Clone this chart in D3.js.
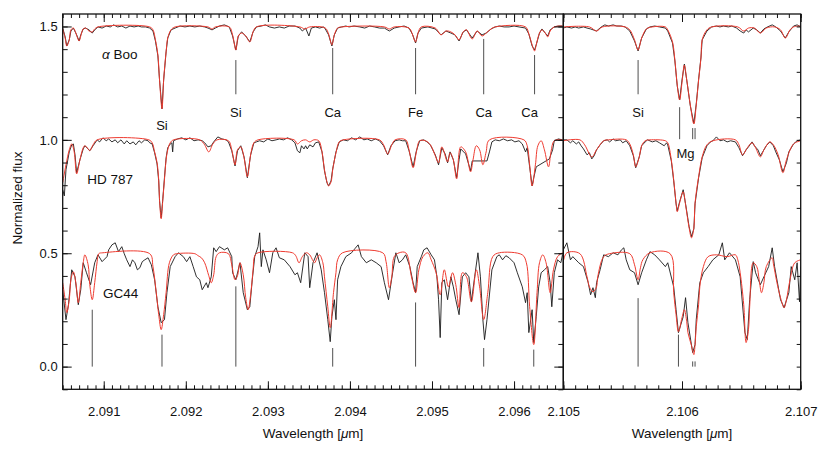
<!DOCTYPE html>
<html>
<head>
<meta charset="utf-8">
<script src="https://cdn.jsdelivr.net/npm/d3@7"></script>
<style>
body { margin: 0; background: #fff; }
svg text { font-family: "Liberation Sans", Arial, Helvetica, sans-serif; fill: #111; }
</style>
</head>
<body>
<div id="chart"></div>
<script>
var w = 830;
var h = 452;

// stars, top to bottom, and the vertical offset each one is plotted with
var starNames = ["α Boo", "HD 787", "GC44"];
var starOffsets = [0.5, 0, -0.5];

// ---- left window: [wavelength (um), normalized flux] ----
var booModelL = [[2.09050,0.989],[2.09053,0.949],[2.09055,0.914],[2.09058,0.941],[2.09060,0.985],[2.09063,0.993],[2.09066,0.971],[2.09070,0.936],[2.09072,0.958],[2.09075,0.989],[2.09078,0.993],[2.09082,0.980],[2.09086,0.976],[2.09089,0.989],[2.09093,0.998],[2.09156,0.998],[2.09160,0.985],[2.09163,0.941],[2.09166,0.874],[2.09168,0.764],[2.09171,0.637],[2.09173,0.764],[2.09176,0.888],[2.09178,0.949],[2.09182,0.985],[2.09187,0.998],[2.09227,0.998],[2.09232,0.989],[2.09236,0.998],[2.09253,0.998],[2.09257,0.963],[2.09261,0.896],[2.09264,0.958],[2.09268,0.971],[2.09273,0.958],[2.09278,0.932],[2.09282,0.976],[2.09286,0.998],[2.09339,0.998],[2.09345,0.989],[2.09351,0.998],[2.09370,0.993],[2.09374,0.967],[2.09378,0.919],[2.09381,0.963],[2.09385,0.993],[2.09390,0.998],[2.09442,0.998],[2.09448,0.989],[2.09454,0.998],[2.09472,0.993],[2.09476,0.967],[2.09480,0.932],[2.09483,0.971],[2.09487,0.998],[2.09504,0.993],[2.09511,0.963],[2.09517,0.980],[2.09523,0.976],[2.09528,0.963],[2.09533,0.941],[2.09538,0.976],[2.09542,0.985],[2.09549,0.945],[2.09555,0.980],[2.09561,0.958],[2.09566,0.971],[2.09572,0.989],[2.09577,0.998],[2.09614,0.998],[2.09618,0.967],[2.09622,0.919],[2.09625,0.892],[2.09627,0.919],[2.09631,0.971],[2.09634,0.985],[2.09638,0.971],[2.09641,0.954],[2.09644,0.980],[2.09649,0.998],[2.09659,1.002]];

var booObsL = [[2.09050,0.993],[2.09053,0.954],[2.09055,0.914],[2.09058,0.941],[2.09060,0.980],[2.09063,0.993],[2.09066,0.971],[2.09070,0.936],[2.09072,0.963],[2.09075,0.989],[2.09078,0.993],[2.09082,0.985],[2.09086,0.971],[2.09089,0.985],[2.09093,0.998],[2.09098,0.993],[2.09103,1.002],[2.09108,0.998],[2.09112,1.007],[2.09117,0.998],[2.09122,1.002],[2.09127,0.993],[2.09132,1.002],[2.09137,0.998],[2.09142,1.002],[2.09146,0.998],[2.09151,0.998],[2.09156,0.993],[2.09160,0.980],[2.09163,0.936],[2.09166,0.870],[2.09168,0.764],[2.09171,0.637],[2.09173,0.764],[2.09176,0.888],[2.09178,0.949],[2.09182,0.985],[2.09187,0.993],[2.09193,1.002],[2.09199,0.998],[2.09205,1.002],[2.09211,0.998],[2.09217,1.002],[2.09223,0.998],[2.09227,0.993],[2.09232,0.985],[2.09236,0.993],[2.09241,1.002],[2.09247,1.007],[2.09253,0.998],[2.09257,0.958],[2.09261,0.896],[2.09264,0.958],[2.09268,0.976],[2.09273,0.958],[2.09278,0.932],[2.09282,0.976],[2.09286,0.998],[2.09292,1.002],[2.09297,1.007],[2.09302,0.998],[2.09308,0.993],[2.09314,0.998],[2.09320,0.993],[2.09326,1.002],[2.09333,1.002],[2.09339,0.993],[2.09342,0.980],[2.09346,0.993],[2.09350,0.958],[2.09353,0.993],[2.09358,0.998],[2.09363,0.993],[2.09368,0.998],[2.09370,0.989],[2.09374,0.963],[2.09378,0.914],[2.09381,0.963],[2.09385,0.993],[2.09390,0.998],[2.09395,1.002],[2.09399,0.998],[2.09405,1.002],[2.09412,0.998],[2.09418,0.993],[2.09424,1.002],[2.09430,0.998],[2.09436,0.993],[2.09442,0.993],[2.09448,0.980],[2.09454,0.993],[2.09460,0.998],[2.09466,1.002],[2.09472,0.993],[2.09476,0.967],[2.09480,0.927],[2.09483,0.971],[2.09487,0.993],[2.09495,0.998],[2.09500,0.993],[2.09504,0.989],[2.09511,0.963],[2.09517,0.980],[2.09523,0.971],[2.09528,0.963],[2.09533,0.936],[2.09538,0.976],[2.09542,0.985],[2.09549,0.949],[2.09555,0.980],[2.09561,0.963],[2.09566,0.971],[2.09572,0.989],[2.09577,0.998],[2.09582,1.002],[2.09588,0.998],[2.09594,0.998],[2.09600,1.002],[2.09606,0.998],[2.09614,0.993],[2.09618,0.967],[2.09622,0.914],[2.09625,0.896],[2.09627,0.919],[2.09631,0.971],[2.09634,0.989],[2.09638,0.971],[2.09641,0.958],[2.09644,0.985],[2.09649,0.998],[2.09654,1.002],[2.09659,1.002]];

var hdModelL = [[2.09050,0.811],[2.09054,0.890],[2.09058,0.956],[2.09061,0.982],[2.09064,0.947],[2.09067,0.850],[2.09071,0.912],[2.09075,0.965],[2.09077,0.974],[2.09081,0.960],[2.09083,0.952],[2.09087,0.978],[2.09092,1.000],[2.09155,1.000],[2.09159,0.987],[2.09162,0.947],[2.09165,0.899],[2.09167,0.824],[2.09168,0.736],[2.09170,0.652],[2.09172,0.736],[2.09174,0.824],[2.09176,0.912],[2.09178,0.956],[2.09181,0.987],[2.09185,1.000],[2.09217,1.000],[2.09223,0.978],[2.09228,0.947],[2.09233,0.982],[2.09238,1.000],[2.09252,0.996],[2.09256,0.956],[2.09260,0.890],[2.09263,0.956],[2.09267,0.969],[2.09271,0.921],[2.09275,0.837],[2.09279,0.934],[2.09283,0.987],[2.09288,1.000],[2.09332,1.000],[2.09336,0.982],[2.09341,0.996],[2.09346,1.000],[2.09351,0.991],[2.09356,1.000],[2.09362,0.996],[2.09366,0.947],[2.09369,0.868],[2.09372,0.815],[2.09374,0.797],[2.09377,0.815],[2.09379,0.868],[2.09383,0.943],[2.09387,0.991],[2.09392,1.000],[2.09436,1.000],[2.09441,0.978],[2.09446,0.938],[2.09451,0.978],[2.09455,1.000],[2.09468,1.000],[2.09472,0.956],[2.09477,0.877],[2.09481,0.947],[2.09485,0.996],[2.09492,0.996],[2.09498,0.978],[2.09504,0.930],[2.09508,0.899],[2.09512,0.969],[2.09519,0.903],[2.09522,0.943],[2.09526,0.912],[2.09530,0.828],[2.09535,0.969],[2.09541,0.947],[2.09547,0.859],[2.09550,0.912],[2.09554,0.974],[2.09558,0.956],[2.09562,0.890],[2.09566,0.947],[2.09570,1.000],[2.09612,1.000],[2.09616,0.974],[2.09619,0.890],[2.09622,0.797],[2.09626,0.890],[2.09629,0.974],[2.09633,0.996],[2.09637,0.956],[2.09642,0.881],[2.09645,0.947],[2.09649,0.996],[2.09659,1.000]];

var hdObsL = [[2.09050,0.780],[2.09052,0.753],[2.09054,0.868],[2.09058,0.947],[2.09061,0.978],[2.09063,0.982],[2.09065,0.934],[2.09067,0.855],[2.09071,0.912],[2.09075,0.960],[2.09077,0.974],[2.09081,0.960],[2.09083,0.952],[2.09087,0.974],[2.09092,1.000],[2.09095,0.991],[2.09099,1.009],[2.09103,0.996],[2.09106,1.004],[2.09110,0.991],[2.09114,1.000],[2.09117,0.987],[2.09121,1.000],[2.09125,0.982],[2.09128,0.996],[2.09132,0.982],[2.09136,0.991],[2.09139,0.978],[2.09143,0.996],[2.09146,0.987],[2.09150,1.000],[2.09154,0.996],[2.09156,0.987],[2.09159,0.982],[2.09162,0.943],[2.09165,0.894],[2.09167,0.819],[2.09168,0.731],[2.09170,0.656],[2.09172,0.740],[2.09174,0.833],[2.09176,0.921],[2.09178,0.965],[2.09181,0.982],[2.09183,0.987],[2.09184,0.947],[2.09185,0.996],[2.09190,1.004],[2.09195,1.009],[2.09200,1.000],[2.09205,1.009],[2.09210,0.996],[2.09215,1.000],[2.09220,0.996],[2.09223,0.987],[2.09227,0.969],[2.09231,0.974],[2.09234,0.991],[2.09239,1.013],[2.09244,1.004],[2.09249,1.000],[2.09252,0.991],[2.09256,0.952],[2.09260,0.885],[2.09263,0.952],[2.09267,0.974],[2.09271,0.925],[2.09275,0.833],[2.09279,0.934],[2.09283,0.987],[2.09286,0.991],[2.09290,0.996],[2.09295,0.991],[2.09300,1.004],[2.09305,0.996],[2.09310,1.000],[2.09314,1.004],[2.09319,1.000],[2.09324,1.009],[2.09329,1.000],[2.09333,0.987],[2.09336,0.952],[2.09339,0.943],[2.09341,0.974],[2.09344,0.960],[2.09346,0.974],[2.09348,0.960],[2.09351,0.978],[2.09355,0.969],[2.09358,0.987],[2.09362,0.991],[2.09366,0.947],[2.09369,0.863],[2.09372,0.811],[2.09374,0.797],[2.09377,0.819],[2.09379,0.872],[2.09383,0.947],[2.09387,0.991],[2.09392,1.000],[2.09397,0.996],[2.09402,1.009],[2.09407,1.000],[2.09412,1.013],[2.09417,1.000],[2.09421,1.004],[2.09426,0.996],[2.09431,1.004],[2.09436,0.996],[2.09441,0.974],[2.09446,0.934],[2.09450,0.974],[2.09455,0.996],[2.09460,1.000],[2.09464,0.996],[2.09468,0.996],[2.09472,0.952],[2.09477,0.881],[2.09481,0.952],[2.09485,0.996],[2.09490,1.000],[2.09494,0.991],[2.09498,0.978],[2.09504,0.934],[2.09508,0.890],[2.09512,0.965],[2.09516,0.938],[2.09519,0.899],[2.09522,0.947],[2.09526,0.912],[2.09530,0.833],[2.09533,0.912],[2.09535,0.960],[2.09541,0.938],[2.09547,0.863],[2.09549,0.907],[2.09567,0.907],[2.09570,0.947],[2.09573,0.991],[2.09577,1.000],[2.09582,0.996],[2.09587,1.004],[2.09592,0.996],[2.09597,1.000],[2.09601,0.991],[2.09606,0.996],[2.09610,0.982],[2.09614,0.947],[2.09616,0.965],[2.09619,0.881],[2.09622,0.797],[2.09624,0.833],[2.09627,0.881],[2.09643,0.916],[2.09647,0.956],[2.09649,0.996],[2.09654,1.004],[2.09659,1.000]];

var gcModelL = [[2.09050,0.870],[2.09053,0.795],[2.09055,0.738],[2.09058,0.795],[2.09060,0.883],[2.09063,0.918],[2.09066,0.870],[2.09069,0.782],[2.09072,0.870],[2.09075,0.958],[2.09077,0.993],[2.09081,0.949],[2.09083,0.861],[2.09086,0.795],[2.09089,0.870],[2.09092,0.963],[2.09094,0.998],[2.09099,1.002],[2.09156,0.998],[2.09160,0.941],[2.09164,0.826],[2.09167,0.729],[2.09170,0.663],[2.09173,0.729],[2.09176,0.826],[2.09180,0.958],[2.09185,0.993],[2.09189,0.998],[2.09211,0.998],[2.09215,0.989],[2.09219,0.980],[2.09223,0.958],[2.09228,0.901],[2.09231,0.870],[2.09234,0.905],[2.09237,0.985],[2.09241,1.002],[2.09252,0.998],[2.09256,0.949],[2.09260,0.883],[2.09263,0.901],[2.09266,0.958],[2.09270,0.905],[2.09273,0.804],[2.09276,0.751],[2.09279,0.817],[2.09282,0.927],[2.09284,0.989],[2.09288,1.002],[2.09330,1.002],[2.09334,0.989],[2.09338,0.958],[2.09342,0.985],[2.09347,1.002],[2.09351,0.993],[2.09355,0.967],[2.09357,0.958],[2.09360,0.980],[2.09363,0.993],[2.09367,0.958],[2.09369,0.896],[2.09373,0.764],[2.09376,0.672],[2.09380,0.826],[2.09383,0.914],[2.09385,0.971],[2.09391,1.002],[2.09440,1.002],[2.09444,0.963],[2.09448,0.848],[2.09451,0.896],[2.09454,0.985],[2.09460,1.002],[2.09468,1.002],[2.09475,0.896],[2.09480,0.826],[2.09484,0.927],[2.09489,0.985],[2.09495,1.002],[2.09499,0.971],[2.09505,0.914],[2.09510,0.817],[2.09515,0.927],[2.09520,0.852],[2.09525,0.914],[2.09529,0.861],[2.09533,0.760],[2.09537,0.914],[2.09542,0.896],[2.09548,0.786],[2.09554,0.927],[2.09558,0.852],[2.09563,0.707],[2.09568,0.826],[2.09574,0.985],[2.09582,1.002],[2.09610,0.993],[2.09615,0.958],[2.09619,0.764],[2.09624,0.597],[2.09628,0.826],[2.09631,0.958],[2.09635,0.993],[2.09639,0.958],[2.09644,0.826],[2.09648,0.927],[2.09653,0.985],[2.09659,1.002]];

var gcObsL = [[2.09050,0.839],[2.09054,0.707],[2.09057,0.773],[2.09061,0.927],[2.09065,0.896],[2.09069,0.773],[2.09072,0.839],[2.09075,0.958],[2.09079,0.914],[2.09084,0.861],[2.09089,0.958],[2.09093,0.993],[2.09098,0.963],[2.09104,0.985],[2.09106,1.015],[2.09110,1.037],[2.09114,1.046],[2.09118,1.007],[2.09122,1.029],[2.09125,0.998],[2.09128,0.971],[2.09132,0.941],[2.09135,0.971],[2.09138,0.958],[2.09141,0.927],[2.09144,0.936],[2.09147,0.963],[2.09150,0.971],[2.09154,0.980],[2.09158,0.949],[2.09162,0.883],[2.09166,0.764],[2.09170,0.694],[2.09174,0.707],[2.09177,0.826],[2.09181,0.941],[2.09187,0.985],[2.09191,1.002],[2.09197,0.985],[2.09201,0.963],[2.09205,0.985],[2.09209,0.941],[2.09213,0.896],[2.09217,0.883],[2.09220,0.839],[2.09225,0.870],[2.09227,0.848],[2.09231,0.896],[2.09234,1.024],[2.09237,1.007],[2.09241,1.029],[2.09247,1.015],[2.09251,1.024],[2.09256,0.985],[2.09257,0.914],[2.09261,0.883],[2.09266,0.958],[2.09270,0.826],[2.09275,0.751],[2.09278,0.764],[2.09281,0.883],[2.09284,0.985],[2.09288,1.029],[2.09290,1.090],[2.09292,0.941],[2.09294,1.015],[2.09298,0.971],[2.09302,0.914],[2.09306,1.002],[2.09310,1.024],[2.09314,0.980],[2.09320,0.971],[2.09327,0.941],[2.09333,0.905],[2.09336,0.914],[2.09340,0.870],[2.09345,1.002],[2.09349,0.985],[2.09351,0.848],[2.09355,0.958],[2.09360,1.002],[2.09365,0.927],[2.09369,0.826],[2.09373,0.707],[2.09376,0.610],[2.09378,0.720],[2.09381,0.795],[2.09383,0.707],[2.09385,0.883],[2.09389,0.941],[2.09395,0.985],[2.09402,1.002],[2.09406,1.020],[2.09410,1.037],[2.09414,0.985],[2.09420,0.958],[2.09426,0.971],[2.09432,0.958],[2.09438,0.941],[2.09442,0.870],[2.09447,0.795],[2.09452,0.914],[2.09456,1.002],[2.09460,0.958],[2.09464,0.971],[2.09468,0.993],[2.09473,0.941],[2.09477,0.870],[2.09480,0.826],[2.09482,0.941],[2.09487,0.985],[2.09490,1.015],[2.09494,1.024],[2.09499,0.993],[2.09503,0.971],[2.09506,0.896],[2.09508,0.795],[2.09510,0.628],[2.09512,0.870],[2.09515,0.883],[2.09519,0.795],[2.09523,0.896],[2.09526,0.852],[2.09529,0.795],[2.09533,0.729],[2.09537,0.896],[2.09541,0.914],[2.09545,0.896],[2.09548,0.786],[2.09552,0.896],[2.09556,1.002],[2.09559,0.896],[2.09562,0.707],[2.09564,0.619],[2.09567,0.707],[2.09573,0.927],[2.09579,0.985],[2.09582,0.993],[2.09586,0.971],[2.09590,0.989],[2.09594,0.980],[2.09600,0.958],[2.09604,0.914],[2.09610,0.852],[2.09614,0.782],[2.09616,0.826],[2.09618,0.650],[2.09622,0.751],[2.09624,0.606],[2.09627,0.720],[2.09630,0.852],[2.09633,0.914],[2.09637,0.927],[2.09641,0.941],[2.09644,0.870],[2.09646,0.764],[2.09649,0.914],[2.09653,0.971],[2.09657,0.958],[2.09659,0.993]];

// ---- right window ----
var booModelR = [[2.10500,0.998],[2.10522,0.998],[2.10528,0.980],[2.10533,0.998],[2.10552,0.998],[2.10556,0.985],[2.10560,0.941],[2.10563,0.896],[2.10566,0.949],[2.10570,0.989],[2.10575,0.998],[2.10586,0.998],[2.10588,0.985],[2.10592,0.932],[2.10594,0.852],[2.10596,0.742],[2.10598,0.676],[2.10600,0.753],[2.10602,0.830],[2.10604,0.764],[2.10607,0.654],[2.10610,0.570],[2.10612,0.654],[2.10614,0.764],[2.10616,0.861],[2.10617,0.941],[2.10621,0.985],[2.10625,0.998],[2.10647,0.998],[2.10652,0.980],[2.10656,0.993],[2.10661,0.993],[2.10666,0.971],[2.10671,0.993],[2.10678,0.998],[2.10683,0.985],[2.10687,0.949],[2.10691,0.985],[2.10694,0.998],[2.10700,1.002]];

var booObsR = [[2.10500,0.993],[2.10503,0.998],[2.10507,0.993],[2.10510,0.998],[2.10513,0.993],[2.10517,0.998],[2.10520,0.993],[2.10523,0.989],[2.10528,0.980],[2.10532,0.998],[2.10535,1.007],[2.10538,1.002],[2.10542,1.007],[2.10545,1.002],[2.10549,1.002],[2.10552,0.998],[2.10556,0.980],[2.10560,0.936],[2.10563,0.892],[2.10566,0.949],[2.10570,0.989],[2.10573,0.998],[2.10577,1.002],[2.10581,0.998],[2.10586,0.993],[2.10588,0.980],[2.10592,0.927],[2.10594,0.848],[2.10596,0.737],[2.10598,0.676],[2.10600,0.764],[2.10602,0.834],[2.10604,0.764],[2.10607,0.650],[2.10610,0.573],[2.10612,0.658],[2.10614,0.767],[2.10616,0.865],[2.10617,0.941],[2.10621,0.980],[2.10625,0.998],[2.10629,1.002],[2.10632,0.998],[2.10635,1.002],[2.10639,0.998],[2.10642,1.002],[2.10646,0.993],[2.10649,0.980],[2.10652,0.971],[2.10654,0.985],[2.10656,0.976],[2.10660,0.993],[2.10663,0.985],[2.10666,0.971],[2.10669,0.989],[2.10672,0.998],[2.10676,1.007],[2.10679,0.998],[2.10683,0.980],[2.10687,0.949],[2.10690,0.976],[2.10694,1.002],[2.10697,1.007],[2.10700,0.998]];

var hdModelR = [[2.10500,0.996],[2.10514,1.000],[2.10518,0.978],[2.10524,0.925],[2.10528,0.956],[2.10534,0.996],[2.10538,1.000],[2.10553,1.000],[2.10556,0.982],[2.10559,0.934],[2.10561,0.881],[2.10564,0.925],[2.10566,0.974],[2.10569,0.996],[2.10573,1.000],[2.10586,0.996],[2.10588,0.987],[2.10591,0.912],[2.10593,0.824],[2.10595,0.722],[2.10596,0.683],[2.10598,0.722],[2.10601,0.771],[2.10603,0.714],[2.10606,0.612],[2.10608,0.568],[2.10610,0.612],[2.10611,0.722],[2.10614,0.837],[2.10617,0.925],[2.10621,0.978],[2.10626,0.996],[2.10645,1.000],[2.10648,0.978],[2.10651,0.934],[2.10655,0.965],[2.10659,0.987],[2.10662,0.965],[2.10666,0.925],[2.10669,0.956],[2.10674,0.991],[2.10677,0.978],[2.10681,0.934],[2.10685,0.855],[2.10688,0.912],[2.10694,0.982],[2.10700,0.996]];

var hdObsR = [[2.10500,1.000],[2.10503,1.000],[2.10506,0.987],[2.10508,0.996],[2.10511,0.982],[2.10513,0.991],[2.10515,0.974],[2.10517,0.960],[2.10520,0.934],[2.10522,0.943],[2.10524,0.916],[2.10526,0.930],[2.10528,0.956],[2.10531,0.978],[2.10534,0.996],[2.10537,1.000],[2.10539,0.991],[2.10542,1.004],[2.10544,0.996],[2.10548,1.000],[2.10550,0.987],[2.10553,0.996],[2.10556,0.974],[2.10559,0.930],[2.10561,0.877],[2.10564,0.925],[2.10566,0.974],[2.10569,0.991],[2.10571,1.000],[2.10575,0.991],[2.10578,0.996],[2.10581,0.987],[2.10585,0.974],[2.10587,0.987],[2.10588,0.978],[2.10591,0.907],[2.10593,0.819],[2.10595,0.718],[2.10596,0.687],[2.10598,0.727],[2.10601,0.780],[2.10603,0.718],[2.10606,0.617],[2.10608,0.573],[2.10610,0.608],[2.10611,0.718],[2.10614,0.833],[2.10617,0.921],[2.10621,0.974],[2.10624,0.991],[2.10626,0.996],[2.10629,1.013],[2.10632,0.996],[2.10635,1.000],[2.10638,0.991],[2.10641,0.996],[2.10645,0.991],[2.10648,0.965],[2.10651,0.930],[2.10654,0.956],[2.10656,0.969],[2.10659,0.991],[2.10661,0.974],[2.10664,0.956],[2.10666,0.930],[2.10668,0.947],[2.10671,0.974],[2.10674,0.991],[2.10677,0.974],[2.10679,0.947],[2.10682,0.912],[2.10685,0.859],[2.10688,0.899],[2.10690,0.947],[2.10694,0.982],[2.10697,0.996],[2.10700,1.000]];

var gcModelR = [[2.10500,0.963],[2.10503,1.002],[2.10514,0.998],[2.10520,0.896],[2.10522,0.852],[2.10525,0.830],[2.10528,0.852],[2.10529,0.896],[2.10534,0.985],[2.10539,0.998],[2.10556,0.998],[2.10560,0.949],[2.10563,0.883],[2.10565,0.936],[2.10567,0.971],[2.10573,1.002],[2.10590,0.998],[2.10593,0.826],[2.10595,0.729],[2.10597,0.654],[2.10600,0.716],[2.10602,0.751],[2.10604,0.698],[2.10605,0.650],[2.10608,0.593],[2.10610,0.553],[2.10611,0.597],[2.10612,0.676],[2.10614,0.773],[2.10615,0.852],[2.10618,0.941],[2.10622,0.985],[2.10629,0.993],[2.10638,0.985],[2.10645,0.993],[2.10647,0.971],[2.10649,0.914],[2.10652,0.773],[2.10654,0.606],[2.10656,0.663],[2.10657,0.764],[2.10660,0.958],[2.10663,0.941],[2.10665,0.883],[2.10667,0.826],[2.10669,0.870],[2.10671,0.941],[2.10676,0.980],[2.10677,0.954],[2.10680,0.870],[2.10683,0.804],[2.10686,0.760],[2.10688,0.795],[2.10691,0.883],[2.10695,0.958],[2.10700,0.971]];

var gcObsR = [[2.10500,1.015],[2.10503,1.046],[2.10506,0.971],[2.10508,0.985],[2.10513,0.958],[2.10517,0.941],[2.10521,0.870],[2.10523,0.817],[2.10525,0.848],[2.10527,0.804],[2.10528,0.870],[2.10531,0.927],[2.10534,0.993],[2.10538,0.985],[2.10542,1.002],[2.10546,0.993],[2.10549,1.015],[2.10551,1.024],[2.10553,0.971],[2.10556,0.927],[2.10560,0.914],[2.10563,0.861],[2.10566,0.914],[2.10570,0.971],[2.10573,1.007],[2.10577,0.993],[2.10581,0.971],[2.10586,0.941],[2.10588,0.958],[2.10593,0.852],[2.10595,0.751],[2.10597,0.650],[2.10601,0.720],[2.10603,0.804],[2.10605,0.694],[2.10609,0.562],[2.10611,0.597],[2.10612,0.707],[2.10615,0.870],[2.10618,0.914],[2.10622,0.941],[2.10626,0.971],[2.10631,0.993],[2.10634,1.046],[2.10636,0.971],[2.10640,1.002],[2.10645,0.971],[2.10649,0.896],[2.10653,0.650],[2.10655,0.619],[2.10657,0.795],[2.10660,0.963],[2.10662,0.914],[2.10666,0.861],[2.10669,0.896],[2.10673,0.941],[2.10676,1.024],[2.10678,0.941],[2.10683,0.795],[2.10686,0.760],[2.10690,0.826],[2.10692,0.941],[2.10695,0.883],[2.10697,0.958],[2.10699,0.786],[2.10700,0.941]];

// line identifications
var idNamesL = ["Si", "Si", "Ca", "Fe", "Ca", "Ca"];
var idWavesL = [2.09171, 2.09261, 2.09379, 2.09480, 2.09563, 2.09625];
var gcMarkWavesL = [2.09086, 2.09171, 2.09261, 2.09379, 2.09480, 2.09563, 2.09624];
var idNamesR = ["Si", "Mg"];
var idWavesR = [2.10563, 2.10598];
var mgDoubletR = [2.10609, 2.10611];
var gcMarkWavesR = [2.10563, 2.10597, 2.10609, 2.10611];

var svg = d3.select("#chart")
    .append("svg")
    .attr("width", w)
    .attr("height", h)
    .style("background-color", "#fff");

var plotTop = 14, plotBottom = 389.3;
var xL = d3.scaleLinear().domain([2.0905, 2.0966]).range([62.7, 563.3]);
var xR = d3.scaleLinear().domain([2.105, 2.107]).range([563.3, 800.7]);
var y = d3.scaleLinear().domain([-0.1, 1.555]).range([plotBottom, plotTop]);

var panels = [
    { x: xL, id: "clipL", obs: [booObsL, hdObsL, gcObsL], model: [booModelL, hdModelL, gcModelL] },
    { x: xR, id: "clipR", obs: [booObsR, hdObsR, gcObsR], model: [booModelR, hdModelR, gcModelR] }
];

var defs = svg.append("defs");

panels.forEach(function(p) {
    var x0 = p.x.range()[0], x1 = p.x.range()[1];
    defs.append("clipPath").attr("id", p.id)
        .append("rect")
        .attr("x", x0).attr("y", plotTop)
        .attr("width", x1 - x0).attr("height", plotBottom - plotTop);

    var g = svg.append("g").attr("clip-path", "url(#" + p.id + ")");

    starOffsets.forEach(function(off, i) {
        var obsLine = d3.line()
            .x(function(d) { return p.x(d[0]); })
            .y(function(d) { return y(d[1] + off); });
        var modLine = d3.line()
            .x(function(d) { return p.x(d[0]); })
            .y(function(d) { return y(d[1] + off); })
            .curve(d3.curveCatmullRom.alpha(0.5));

        g.append("path")
            .datum(p.obs[i])
            .attr("d", obsLine)
            .attr("fill", "none")
            .attr("stroke", "#1a1a1a")
            .attr("stroke-width", 0.9)
            .attr("stroke-linejoin", "round");

        g.append("path")
            .datum(p.model[i])
            .attr("d", modLine)
            .attr("fill", "none")
            .attr("stroke", "#ee3b30")
            .attr("stroke-width", 1);
    });
});

// ---- line id markers ----
var marks = svg.append("g")
    .attr("stroke", "#222")
    .attr("stroke-width", 0.8);

function mark(xs, wave, v0, v1) {
    marks.append("line")
        .attr("x1", xs(wave)).attr("x2", xs(wave))
        .attr("y1", y(v0)).attr("y2", y(v1));
}

function idLabel(xs, wave, txt, v, dx) {
    svg.append("text")
        .attr("x", xs(wave) + (dx || 0))
        .attr("y", y(v))
        .attr("dy", "0.35em")
        .attr("text-anchor", "middle")
        .style("font-size", "13px")
        .text(txt);
}

// upper row (alpha Boo)
var upperTops = [null, 1.352, 1.405, 1.405, 1.445, 1.374];
idWavesL.forEach(function(wv, i) {
    if (upperTops[i] !== null) mark(xL, wv, 1.201, upperTops[i]);
    idLabel(xL, wv, idNamesL[i], i === 0 ? 1.062 : 1.123, i === 5 ? -5 : 0);
});
mark(xR, idWavesR[0], 1.201, 1.352);
idLabel(xR, idWavesR[0], idNamesR[0], 1.123, 0);
mark(xR, idWavesR[1], 1.003, 1.144);
mgDoubletR.forEach(function(wv) { mark(xR, wv, 1.003, 1.052); });
idLabel(xR, 2.10603, idNamesR[1], 0.938, 0);

// lower row (GC44)
var gcTopsL = [0.251, 0.141, 0.354, 0.082, 0.283, 0.082, 0.075];
gcMarkWavesL.forEach(function(wv, i) { mark(xL, wv, 0, gcTopsL[i]); });
var gcTopsR = [0.302, 0.141, 0.023, 0.023];
gcMarkWavesR.forEach(function(wv, i) { mark(xR, wv, 0, gcTopsR[i]); });

// ---- star names ----
var booText = svg.append("text")
    .attr("x", xL(2.09098)).attr("y", y(1.355))
    .style("font-size", "13.5px");
booText.append("tspan").style("font-style", "italic").text(starNames[0].split(" ")[0]);
booText.append("tspan").text(" " + starNames[0].split(" ")[1]);

svg.append("text")
    .attr("x", xL(2.09080)).attr("y", y(0.804))
    .style("font-size", "13.5px")
    .text(starNames[1]);

svg.append("text")
    .attr("x", xL(2.09099)).attr("y", y(0.302))
    .style("font-size", "13.5px")
    .text(starNames[2]);

// ---- axes ----
function styleAxis(g) {
    g.select(".domain").remove();
    g.selectAll("line").attr("stroke", "#111").attr("stroke-width", 1);
    g.selectAll("text").style("font-size", "13px").attr("fill", "#111");
}

function minors(a, b) {
    return d3.range(Math.round(a * 10000), Math.round(b * 10000) + 1).map(function(i) { return i / 10000; });
}

var xMajL = [2.091, 2.092, 2.093, 2.094, 2.095, 2.096];
var xMajR = [2.105, 2.106, 2.107];

[[xL, xMajL, minors(2.0905, 2.0966)], [xR, xMajR, minors(2.105, 2.107)]].forEach(function(a) {
    var xs = a[0];
    svg.append("g").attr("transform", "translate(0," + plotBottom + ")")
        .call(d3.axisBottom(xs).tickValues(a[2]).tickSize(-4).tickFormat(""))
        .call(styleAxis);
    svg.append("g").attr("transform", "translate(0," + plotBottom + ")")
        .call(d3.axisBottom(xs).tickValues(a[1]).tickSize(-8).tickPadding(17).tickFormat(d3.format(".3f")))
        .call(styleAxis);
    svg.append("g").attr("transform", "translate(0," + plotTop + ")")
        .call(d3.axisTop(xs).tickValues(a[2]).tickSize(-4).tickFormat(""))
        .call(styleAxis);
    svg.append("g").attr("transform", "translate(0," + plotTop + ")")
        .call(d3.axisTop(xs).tickValues(a[1]).tickSize(-8).tickFormat(""))
        .call(styleAxis);
});

var yMinor = d3.range(-1, 16).map(function(i) { return i / 10; });
var yMajor = [0, 0.5, 1.0, 1.5];

svg.append("g").attr("transform", "translate(62.7,0)")
    .call(d3.axisLeft(y).tickValues(yMinor).tickSize(-5).tickFormat(""))
    .call(styleAxis);
svg.append("g").attr("transform", "translate(62.7,0)")
    .call(d3.axisLeft(y).tickValues(yMajor).tickSize(-9).tickPadding(5).tickFormat(d3.format(".1f")))
    .call(styleAxis);
svg.append("g").attr("transform", "translate(563.3,0)")
    .call(d3.axisRight(y).tickValues(yMinor).tickSize(-5).tickFormat(""))
    .call(styleAxis);
svg.append("g").attr("transform", "translate(563.3,0)")
    .call(d3.axisRight(y).tickValues(yMajor).tickSize(-9).tickFormat(""))
    .call(styleAxis);
svg.append("g").attr("transform", "translate(800.7,0)")
    .call(d3.axisRight(y).tickValues(yMinor).tickSize(-4).tickFormat(""))
    .call(styleAxis);

// frames
panels.forEach(function(p) {
    var x0 = p.x.range()[0], x1 = p.x.range()[1];
    svg.append("rect")
        .attr("x", x0).attr("y", plotTop)
        .attr("width", x1 - x0).attr("height", plotBottom - plotTop)
        .attr("fill", "none")
        .attr("stroke", "#111")
        .attr("stroke-width", 1.3);
});

// axis titles
svg.append("text")
    .attr("transform", "translate(22,198) rotate(-90)")
    .attr("text-anchor", "middle")
    .style("font-size", "13.5px")
    .text("Normalized flux");

[313, 682].forEach(function(cx) {
    var t = svg.append("text")
        .attr("x", cx).attr("y", 438)
        .attr("text-anchor", "middle")
        .style("font-size", "13.5px");
    t.append("tspan").text("Wavelength [");
    t.append("tspan").style("font-style", "italic").text("μ");
    t.append("tspan").text("m]");
});
</script>
</body>
</html>
